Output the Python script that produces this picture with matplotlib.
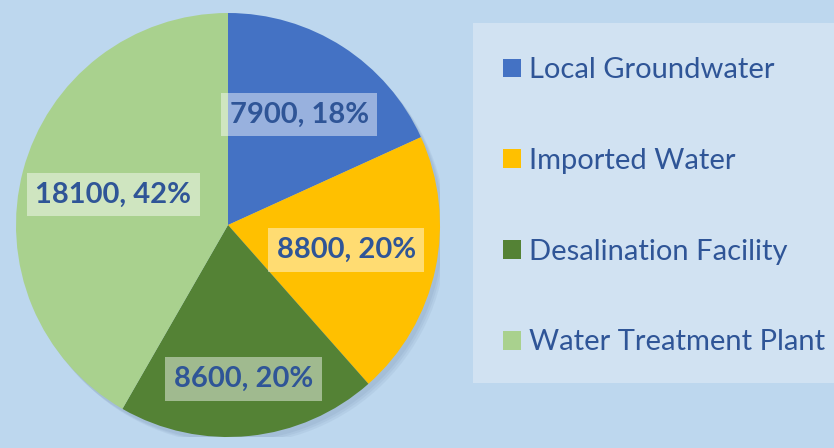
import numpy as np
import matplotlib.pyplot as plt
from matplotlib.patches import Patch, Rectangle, Circle

plt.rcParams['font.family'] = ['Lato', 'DejaVu Sans']

sources = ['Local Groundwater', 'Imported Water', 'Desalination Facility', 'Water Treatment Plant']
volumes = [7900, 8800, 8600, 18100]
colors = ['#4472C4', '#FFC000', '#548235', '#A9D18E']
label_r = [0.62, 0.57, 0.73, 0.56]

bg = '#BDD7EE'
txt = '#2F5597'

fig = plt.figure(figsize=(8.34, 4.48), dpi=100)
fig.patch.set_facecolor(bg)

# pie centre ~ (228, 225) px, radius ~212 px
W, H = 834, 448
cx, cy, R = 228, 225, 212
ax = fig.add_axes([(cx - R) / W, (H - cy - R) / H, 2 * R / W, 2 * R / H])
ax.set_facecolor('none')

# soft shadow
for i in range(3):
    ax.add_patch(Circle((0.015 + 0.008 * i, -0.02 - 0.008 * i), 1.0, color='#1F3864',
                        alpha=0.05, lw=0, zorder=0))

wedges, _ = ax.pie(volumes, colors=colors, startangle=90, counterclock=False,
                   radius=1.0, wedgeprops=dict(linewidth=0))
ax.set_xlim(-1, 1)
ax.set_ylim(-1, 1)
ax.set_aspect('equal')
ax.axis('off')

total = sum(volumes)
for w, v, r in zip(wedges, volumes, label_r):
    ang = np.deg2rad((w.theta1 + w.theta2) / 2)
    x, y = r * np.cos(ang), r * np.sin(ang)
    ax.text(x, y, f'{v}, {round(100 * v / total)}%', ha='center', va='center',
            fontsize=21, fontweight='bold', color=txt, zorder=5,
            bbox=dict(boxstyle='square,pad=0.3', facecolor='white', alpha=0.45, edgecolor='none'))

# legend panel
fig.patches.append(Rectangle((473 / W, 1 - 383 / H), (W - 473) / W, 360 / H,
                             transform=fig.transFigure, facecolor='#D1E2F2',
                             edgecolor='none', zorder=0))
handles = [Patch(facecolor=c, edgecolor='none') for c in colors]
leg = fig.legend(handles, sources, loc='upper left', bbox_to_anchor=(477 / W, 1 - 31 / H),
                 frameon=False, fontsize=21, labelcolor=txt, handlelength=0.62,
                 handleheight=0.62, handletextpad=0.27, labelspacing=2.22)

fig.savefig('out.png', dpi=100, facecolor=bg)
